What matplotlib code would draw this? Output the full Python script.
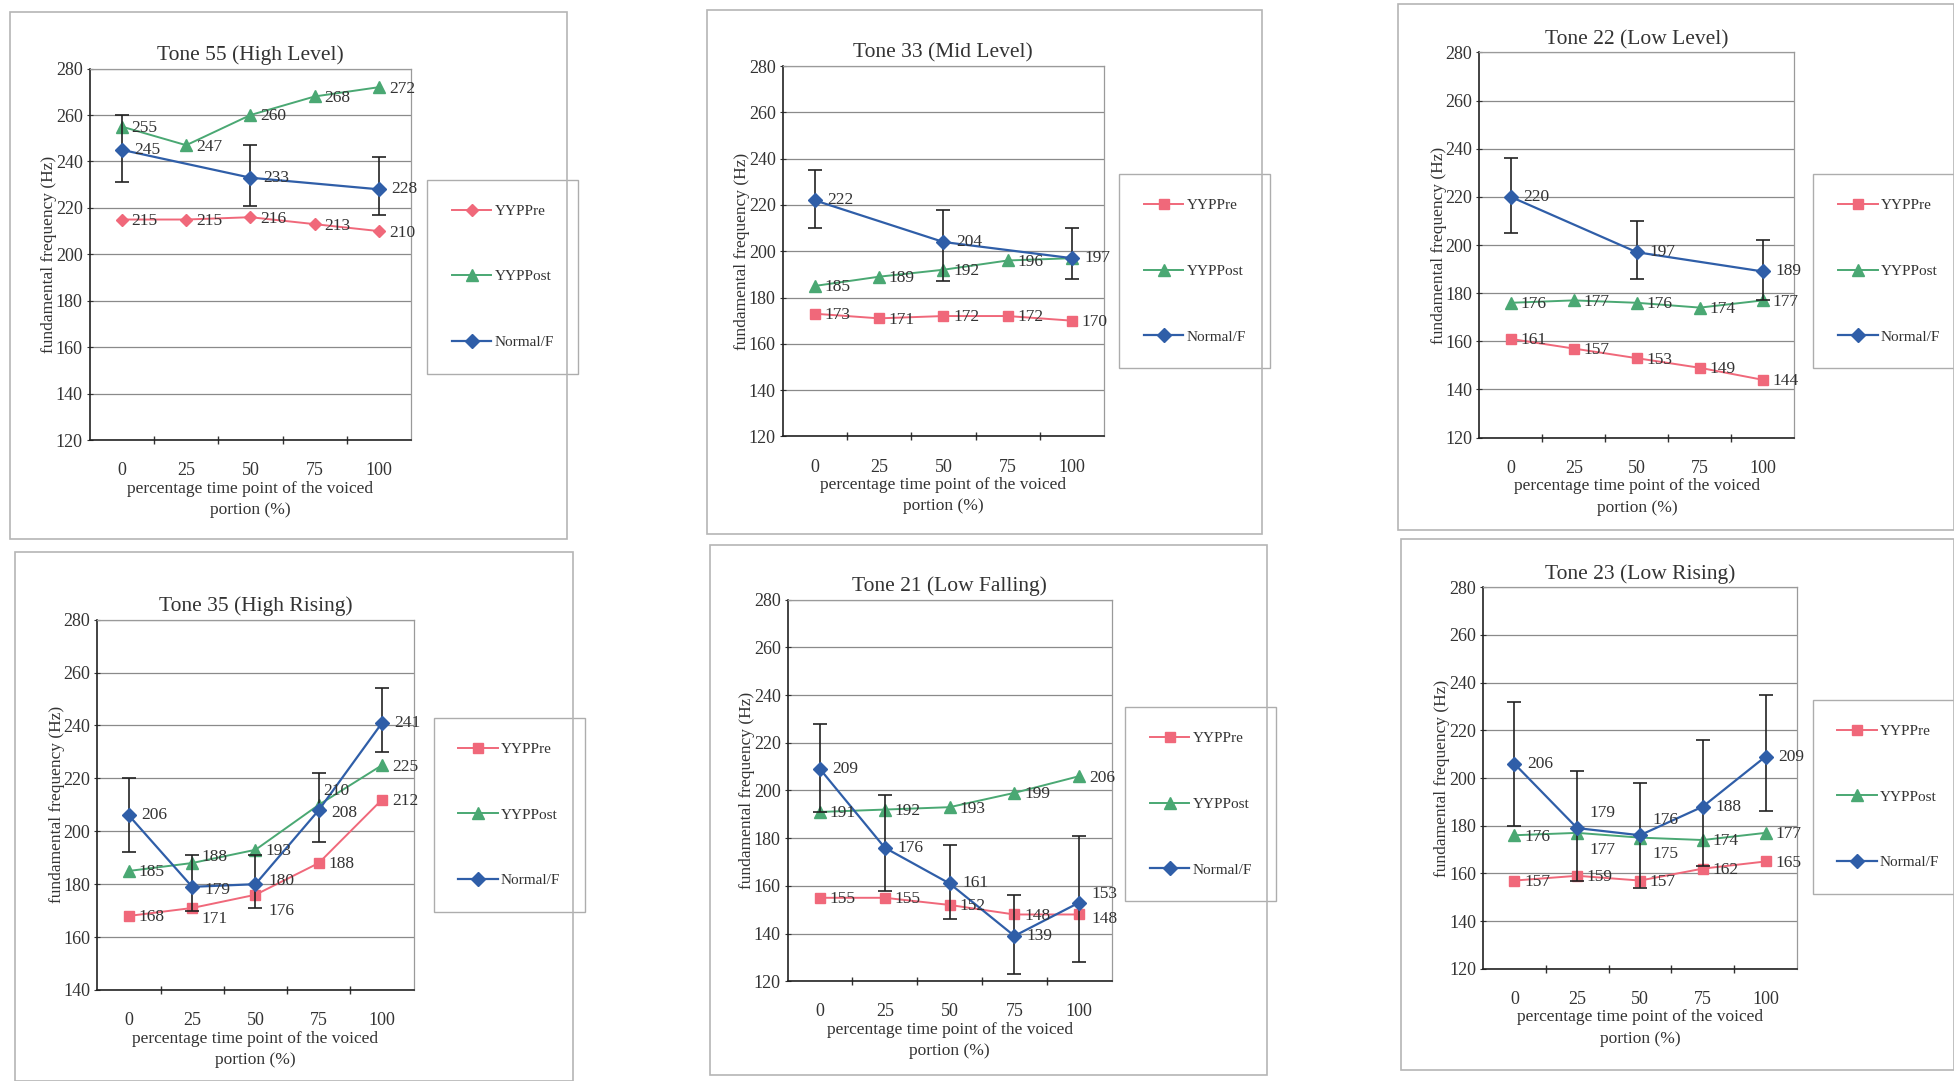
import numpy as np
import matplotlib
matplotlib.use("Agg")
import matplotlib.pyplot as plt
from matplotlib.patches import Rectangle

plt.rcParams['font.family'] = ['Liberation Serif', 'DejaVu Serif']
plt.rcParams['text.color'] = '#333333'
plt.rcParams['axes.labelcolor'] = '#333333'
plt.rcParams['xtick.color'] = '#333333'
plt.rcParams['ytick.color'] = '#333333'

# time points (% of voiced portion)
time_labels = ['0', '25', '50', '75', '100']

# Tone 55 (High Level)
t55_pre = [215, 215, 216, 213, 210]
t55_post = [255, 247, 260, 268, 272]
t55_norm_x = [0, 2, 4]
t55_norm = [245, 233, 228]
t55_norm_lo = [231, 221, 217]
t55_norm_hi = [260, 247, 242]

# Tone 33 (Mid Level)
t33_pre = [173, 171, 172, 172, 170]
t33_post = [185, 189, 192, 196, 197]
t33_norm_x = [0, 2, 4]
t33_norm = [222, 204, 197]
t33_norm_lo = [210, 187, 188]
t33_norm_hi = [235, 218, 210]

# Tone 22 (Low Level)
t22_pre = [161, 157, 153, 149, 144]
t22_post = [176, 177, 176, 174, 177]
t22_norm_x = [0, 2, 4]
t22_norm = [220, 197, 189]
t22_norm_lo = [205, 186, 177]
t22_norm_hi = [236, 210, 202]

# Tone 35 (High Rising)
t35_pre = [168, 171, 176, 188, 212]
t35_post = [185, 188, 193, 210, 225]
t35_norm_x = [0, 1, 2, 3, 4]
t35_norm = [206, 179, 180, 208, 241]
t35_norm_lo = [192, 170, 171, 196, 230]
t35_norm_hi = [220, 191, 191, 222, 254]

# Tone 21 (Low Falling)
t21_pre = [155, 155, 152, 148, 148]
t21_post = [191, 192, 193, 199, 206]
t21_norm_x = [0, 1, 2, 3, 4]
t21_norm = [209, 176, 161, 139, 153]
t21_norm_lo = [191, 158, 146, 123, 128]
t21_norm_hi = [228, 198, 177, 156, 181]

# Tone 23 (Low Rising)
t23_pre = [157, 159, 157, 162, 165]
t23_post = [176, 177, 175, 174, 177]
t23_norm_x = [0, 1, 2, 3, 4]
t23_norm = [206, 179, 176, 188, 209]
t23_norm_lo = [180, 157, 154, 163, 186]
t23_norm_hi = [232, 203, 198, 216, 235]

titles = ['Tone 55 (High Level)', 'Tone 33 (Mid Level)', 'Tone 22 (Low Level)',
          'Tone 35 (High Rising)', 'Tone 21 (Low Falling)', 'Tone 23 (Low Rising)']
y_mins = [120, 120, 120, 140, 120, 120]

panels = [
    (t55_pre, t55_post, t55_norm_x, t55_norm, t55_norm_lo, t55_norm_hi),
    (t33_pre, t33_post, t33_norm_x, t33_norm, t33_norm_lo, t33_norm_hi),
    (t22_pre, t22_post, t22_norm_x, t22_norm, t22_norm_lo, t22_norm_hi),
    (t35_pre, t35_post, t35_norm_x, t35_norm, t35_norm_lo, t35_norm_hi),
    (t21_pre, t21_post, t21_norm_x, t21_norm, t21_norm_lo, t21_norm_hi),
    (t23_pre, t23_post, t23_norm_x, t23_norm, t23_norm_lo, t23_norm_hi),
]

# layout measured on the 1568x867 preview
W, H = 1568.0, 867.0
axes_px = [(72, 55, 330, 353), (628, 53, 886, 350), (1187, 42, 1440, 351),
           (78, 497, 332, 794), (632, 481, 892, 787), (1190, 471, 1442, 777)]
frames_px = [(8, 10, 455, 432), (567, 8, 1013, 428), (1122, 3, 1568, 425),
             (12, 443, 460, 867), (570, 437, 1017, 862), (1124, 432, 1568, 858)]
legend_pos = [(1.05, 0.44), (1.047, 0.446), (1.06, 0.432),
              (1.063, 0.473), (1.042, 0.464), (1.05, 0.451)]

# label nudges (points) where labels would collide: (panel, series, index)
label_offsets = {
    (3, 'pre', 1): (7, -8), (3, 'post', 1): (7, 4), (3, 'norm', 1): (9, -2),
    (3, 'pre', 2): (9, -12), (3, 'norm', 2): (9, 2),
    (3, 'post', 3): (3, 10), (3, 'norm', 3): (9, -2),
    (4, 'norm', 4): (9, 6), (4, 'pre', 4): (9, -3),
    (5, 'post', 1): (9, -12), (5, 'norm', 1): (9, 11),
    (5, 'post', 2): (9, -12), (5, 'norm', 2): (9, 11),
}
hidden_labels = [(1, 'post', 4)]

c_pre = '#f0687a'
c_post = '#4aa873'
c_norm = '#2f5ea8'

fig = plt.figure(figsize=(19.54, 10.81), dpi=100)

for i in range(6):
    pre, post, nx, norm, lo, hi = panels[i]
    x0, y0, x1, y1 = frames_px[i]
    fig.patches.append(Rectangle((x0 / W, 1 - y1 / H), (x1 - x0) / W, (y1 - y0) / H,
                                 transform=fig.transFigure, fill=False,
                                 edgecolor='#b5b5b5', lw=1.2))
    a0, b0, a1, b1 = axes_px[i]
    ax = fig.add_axes([a0 / W, 1 - b1 / H, (a1 - a0) / W, (b1 - b0) / H])

    xs = np.arange(5)
    pre_marker = 'D' if i == 0 else 's'
    ax.plot(xs, pre, color=c_pre, marker=pre_marker, ms=7 if i else 6, lw=1.4, label='YYPPre')
    ax.plot(xs, post, color=c_post, marker='^', ms=8, lw=1.4, label='YYPPost')
    err = [np.array(norm) - np.array(lo), np.array(hi) - np.array(norm)]
    ax.errorbar(nx, norm, yerr=err, fmt='none', ecolor='#222222', elinewidth=1.2,
                capsize=5, capthick=1.2, zorder=2.5)
    ax.plot(nx, norm, color=c_norm, marker='D', ms=7, lw=1.6, label='Normal/F', zorder=3)

    for name, sx, sy, dflt in [('pre', xs, pre, (7, -1)), ('post', xs, post, (7, -1)),
                               ('norm', nx, norm, (9, 0))]:
        for k, (xv, yv) in enumerate(zip(sx, sy)):
            if (i, name, k) in hidden_labels:
                continue
            off = label_offsets.get((i, name, k), dflt)
            ax.annotate(str(yv), (xv, yv), xytext=off, textcoords='offset points',
                        va='center', ha='left', fontsize=12.5)

    ax.set_xlim(-0.5, 4.5)
    ax.set_ylim(y_mins[i], 280)
    ax.set_yticks(np.arange(y_mins[i], 281, 20))
    ax.yaxis.grid(True, color='#8a8a8a', lw=0.9)
    ax.set_axisbelow(True)
    ax.set_xticks(xs)
    ax.set_xticklabels(time_labels)
    ax.set_xticks(np.arange(0.5, 4.0, 1.0), minor=True)
    ax.tick_params(axis='x', which='major', length=0, pad=16, labelsize=13)
    ax.tick_params(axis='x', which='minor', length=6, direction='inout', width=1)
    ax.tick_params(axis='y', length=4, direction='inout', pad=3, labelsize=13)
    for s in ['top', 'right']:
        ax.spines[s].set_color('#9a9a9a')
        ax.spines[s].set_linewidth(0.9)
    for s in ['left', 'bottom']:
        ax.spines[s].set_color('#222222')
        ax.spines[s].set_linewidth(1.2)

    ax.set_title(titles[i], fontsize=15.5, pad=6)
    ax.set_ylabel('fundamental frequency (Hz)', fontsize=12.5, labelpad=-1)
    ax.set_xlabel('percentage time point of the voiced\nportion (%)', fontsize=12.5,
                  labelpad=1, linespacing=1.45)

    leg = ax.legend(loc='center left', bbox_to_anchor=legend_pos[i], fontsize=11,
                    frameon=True, fancybox=False, edgecolor='#999999',
                    labelspacing=3.4, borderpad=1.6, handlelength=2.6,
                    handletextpad=0.2, borderaxespad=0)
    leg.get_frame().set_linewidth(1.0)

fig.savefig('out.png', dpi=100, facecolor='white')
